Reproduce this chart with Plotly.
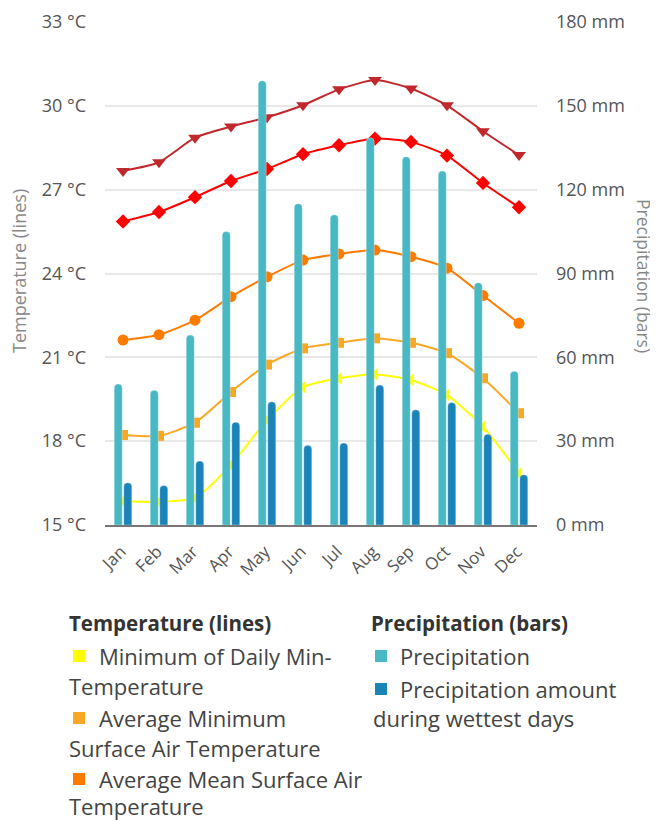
import plotly.graph_objects as go

months = ["Jan", "Feb", "Mar", "Apr", "May", "Jun", "Jul", "Aug", "Sep", "Oct", "Nov", "Dec"]

precip = [50.5, 48.2, 68, 105, 159, 115, 111, 138.6, 131.8, 126.7, 86.7, 55]
precip_wettest = [15.1, 14.1, 22.9, 36.8, 44.1, 28.5, 29.3, 50.1, 41.2, 43.8, 32.5, 18]

t_max_daily_max = [27.67, 27.98, 28.86, 29.26, 29.59, 30.02, 30.59, 30.92, 30.62, 30.02, 29.09, 28.24]
t_avg_max = [25.86, 26.2, 26.73, 27.31, 27.74, 28.27, 28.59, 28.83, 28.71, 28.22, 27.24, 26.37]
t_avg_mean = [21.62, 21.81, 22.33, 23.17, 23.88, 24.48, 24.7, 24.84, 24.6, 24.19, 23.21, 22.22]
t_avg_min = [18.22, 18.19, 18.66, 19.76, 20.74, 21.32, 21.52, 21.68, 21.52, 21.15, 20.25, 19.0]
t_min_daily_min = [15.86, 15.83, 15.97, 17.15, 18.76, 19.93, 20.25, 20.39, 20.19, 19.65, 18.52, 16.85]

temp_ticks = [15, 18, 21, 24, 27, 30, 33]
precip_ticks = [0, 30, 60, 90, 120, 150, 180]

FONT = "Open Sans"
OFF = 8  # default page body margin
W, H = 658 - OFF, 821 - OFF
ML, MT = 105 - OFF, 22 - OFF
MR = W - (537 - OFF)
MB = H - (525 - OFF)
PW = W - ML - MR
PH = H - MT - MB


def px(x):
    # x given in page pixels
    return (x - OFF - ML) / PW


def py(y):
    return (H - MB - (y - OFF)) / PH


fig = go.Figure()

lines = [
    ("Minimum of Daily Min-Temperature", t_min_daily_min, "#ffff00", "triangle-left", 11),
    ("Average Minimum Surface Air Temperature", t_avg_min, "#f9a825", "square", 10),
    ("Average Mean Surface Air Temperature", t_avg_mean, "#ff7b00", "circle", 11),
    ("Average Maximum Surface Air Temperature", t_avg_max, "#ff0000", "diamond", 11),
    ("Maximum of Daily Max-Temperature", t_max_daily_max, "#c0282d", "triangle-down", 12),
]
for name, vals, col, sym, sz in lines:
    fig.add_trace(go.Scatter(
        x=months, y=vals, name=name, mode="lines+markers",
        line=dict(color=col, width=2, shape="spline", smoothing=0.6),
        marker=dict(symbol=sym, size=sz, color=col),
        yaxis="y", showlegend=False,
    ))

fig.add_trace(go.Bar(x=months, y=precip, name="Precipitation", yaxis="y2",
                     marker=dict(color="#48b8c4", cornerradius=4,
                                 line=dict(color="rgba(255,255,255,0.6)", width=0.5)),
                     showlegend=False))
fig.add_trace(go.Bar(x=months, y=precip_wettest, name="Precipitation amount during wettest days",
                     yaxis="y2",
                     marker=dict(color="#1a83b8", cornerradius=4,
                                 line=dict(color="rgba(255,255,255,0.6)", width=0.5)),
                     showlegend=False))

fig.update_layout(
    width=W, height=H,
    margin=dict(l=ML, r=MR, t=MT, b=MB, autoexpand=False),
    paper_bgcolor="white", plot_bgcolor="white",
    font=dict(family=FONT, size=14, color="#555"),
    barmode="group", bargap=0.47, bargroupgap=0.16,
    xaxis=dict(tickangle=-45, showgrid=False, showline=True, linecolor="#777", linewidth=2,
               tickfont=dict(size=17, color="#555"), ticks="", fixedrange=True, automargin=False,
               ticklabelstandoff=8, ticklabelshift=-2, range=[-0.5, 11.5]),
    yaxis=dict(range=[15, 33], tickvals=temp_ticks, ticktext=[f"{v} °C" for v in temp_ticks],
               gridcolor="#e8e8e8", gridwidth=2, zeroline=False, tickfont=dict(size=18, color="#555"),
               ticklabelstandoff=18, automargin=False),
    yaxis2=dict(range=[0, 180], tickvals=precip_ticks, ticktext=[f"{v} mm" for v in precip_ticks],
                overlaying="y", side="right", showgrid=False, zeroline=False,
                tickfont=dict(size=18, color="#555"), ticklabelstandoff=18, automargin=False),
)

ann = []
ann.append(dict(text="Temperature (lines)", x=px(19), y=py(271), xref="paper", yref="paper",
                textangle=-90, showarrow=False, font=dict(size=18, color="#888"),
                xanchor="center", yanchor="middle"))
ann.append(dict(text="Precipitation (bars)", x=px(644), y=py(276), xref="paper", yref="paper",
                textangle=90, showarrow=False, font=dict(size=17.5, color="#888"),
                xanchor="center", yanchor="middle"))


def txt(s, x, y, bold=False):
    ann.append(dict(text=f"<b>{s}</b>" if bold else s, x=px(x), y=py(y), xref="paper", yref="paper",
                    showarrow=False, xanchor="left", yanchor="middle",
                    font=dict(size=20.5 if bold else 22, color="#333" if bold else "#444")))


shapes = []


def sq(x, y, col):
    shapes.append(dict(type="rect", xref="paper", yref="paper",
                       x0=px(x), x1=px(x + 12), y0=py(y - 6), y1=py(y + 6),
                       fillcolor=col, line=dict(width=0)))


txt("Temperature (lines)", 67, 623, bold=True)
sq(73, 656, "#ffff00"); txt("Minimum of Daily Min-", 97, 656); txt("Temperature", 67, 686)
sq(73, 718, "#f9a825"); txt("Average Minimum", 97, 718); txt("Surface Air Temperature", 67, 748)
sq(73, 779, "#ff7b00"); txt("Average Mean Surface Air", 97, 779); txt("Temperature", 67, 806)

txt("Precipitation (bars)", 369, 623, bold=True)
sq(375, 656, "#48b8c4"); txt("Precipitation", 398, 656)
sq(375, 689, "#1a83b8"); txt("Precipitation amount", 398, 689); txt("during wettest days", 371, 718)

fig.update_layout(annotations=ann, shapes=shapes)
fig.write_html("out.html")
